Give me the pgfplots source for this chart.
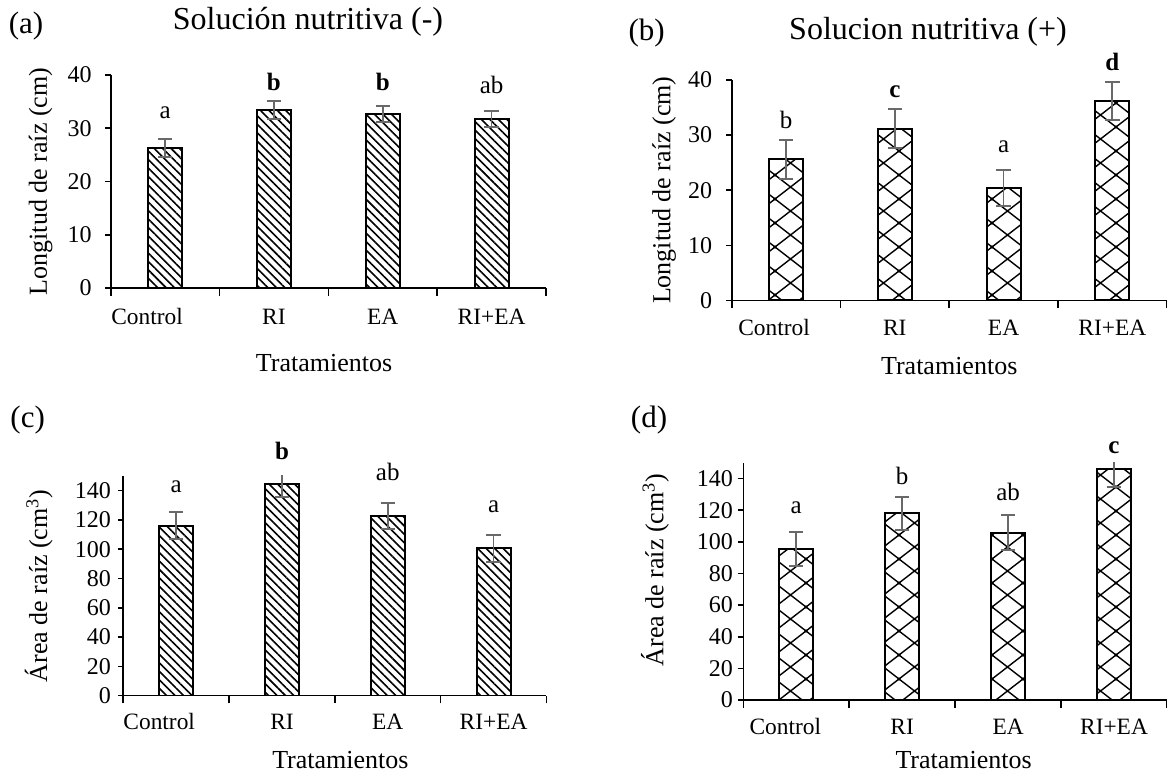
\documentclass[border=0pt]{standalone}
\usepackage{fontspec}
\setmainfont{Liberation Serif}
\usepackage{pgfplots}
\pgfplotsset{compat=1.18}
\usetikzlibrary{patterns,patterns.meta}
\definecolor{errgray}{RGB}{105,105,105}

\pgfdeclarepatternformonly{mydiamond}{\pgfqpoint{-1pt}{-1pt}}{\pgfqpoint{16.5pt}{13pt}}{\pgfqpoint{15.5pt}{12pt}}{%
  \pgfsetlinewidth{0.7pt}%
  \pgfpathmoveto{\pgfqpoint{-0.646pt}{-0.5pt}}\pgfpathlineto{\pgfqpoint{16.146pt}{12.5pt}}%
  \pgfpathmoveto{\pgfqpoint{-0.646pt}{12.5pt}}\pgfpathlineto{\pgfqpoint{16.146pt}{-0.5pt}}%
  \pgfusepath{stroke}}

\tikzset{lett/.style={font=\fontsize{12.5}{14}\selectfont, inner sep=0pt, anchor=center}}

\pgfplotsset{
  mybase/.style={
    scale only axis,
    ybar, bar width=17pt,
    axis x line*=bottom, axis y line*=left,
    axis line style={line width=0.8pt,-},
    xmin=-0.5, xmax=3.5, ymin=0,
    xtick={1,2,3}, xticklabels={RI,EA,RI+EA},
    extra x ticks={0}, extra x tick labels={Control},
    major x tick style={draw=none},
    minor xtick={-0.5,0.5,1.5,2.5,3.5},
    minor tick length=3.8pt, major tick length=2.7pt,
    tick align=outside,
    tick style={black, line width=0.8pt},
    /pgf/number format/assume math mode=true,
    yticklabel style={font=\fontsize{12}{14}\selectfont},
    xticklabel style={font=\fontsize{11.7}{14}\selectfont, anchor=base},
    xlabel style={font=\fontsize{13}{15}\selectfont, anchor=base},
    ylabel style={font=\fontsize{13}{15}\selectfont, anchor=center},
    clip mode=individual,
    xlabel={Tratamientos},
  },
  ctrl/.style={extra x tick style={major x tick style={draw=none}, xticklabel style={xshift=#1}}},
  errb/.style={
    draw=black, line width=1pt,
    error bars/.cd, y dir=both, y explicit,
    error bar style={errgray, line width=0.9pt},
    error mark=-,
    error mark options={rotate=90, errgray, line width=0.9pt, mark size=3.6pt},
    /pgfplots/.cd
  },
}

\begin{document}
\begin{tikzpicture}
\useasboundingbox (0,0) rectangle (583.5pt,387.5pt);

% (a)
\begin{axis}[mybase,
  at={(55.35pt,243.5pt)}, anchor=south west,
  width=217.65pt, height=106.5pt,
  ymax=40, ytick={0,10,20,30,40},
  ctrl=-9pt,
  yticklabel style={xshift=-3.3pt},
  xticklabel style={yshift=-15.5pt},
  xlabel style={at={(axis description cs:0.49,-0.3944)}},
  ylabel style={at={(axis description cs:-0.1608,0.5)}},
  ylabel={Longitud de raíz (cm)}]
\addplot[pattern={Lines[angle=-45,distance=3pt,line width=0.8pt]}, errb]
  coordinates {(0,26.3) +- (0,1.7) (1,33.4) +- (0,1.7) (2,32.7) +- (0,1.5) (3,31.7) +- (0,1.5)};
\node[lett] at (axis cs:0,32.9) {a};
\node[lett] at (axis cs:1,38.7) {\textbf{b}};
\node[lett] at (axis cs:2,38.7) {\textbf{b}};
\node[lett] at (axis cs:3,38.1) {ab};
\end{axis}

% (b)
\begin{axis}[mybase,
  at={(365.85pt,237.25pt)}, anchor=south west,
  width=217.5pt, height=110.25pt,
  ymax=40, ytick={0,10,20,30,40},
  ctrl=-6pt,
  yticklabel style={xshift=-3.6pt},
  xticklabel style={yshift=-15pt},
  xlabel style={at={(axis description cs:0.5,-0.3379)}},
  ylabel style={at={(axis description cs:-0.1552,0.5)}},
  ylabel={Longitud de raíz (cm)}]
\addplot[pattern=mydiamond, errb]
  coordinates {(0,25.6) +- (0,3.5) (1,31.2) +- (0,3.5) (2,20.4) +- (0,3.3) (3,36.2) +- (0,3.5)};
\node[lett] at (axis cs:0,32.7) {b};
\node[lett] at (axis cs:1,37.8) {\textbf{c}};
\node[lett] at (axis cs:2,27.8) {a};
\node[lett] at (axis cs:3,43.3) {\textbf{d}};
\end{axis}

% (c)
\begin{axis}[mybase,
  at={(61.65pt,39.65pt)}, anchor=south west,
  width=211.6pt, height=109.85pt,
  ymax=150, ytick={0,20,40,60,80,100,120,140},
  ctrl=-8.5pt,
  yticklabel style={xshift=0pt},
  xticklabel style={yshift=-14pt},
  xlabel style={at={(axis description cs:0.513,-0.3304)}},
  ylabel style={at={(axis description cs:-0.1997,0.5)}},
  ylabel={Área de raíz (cm\textsuperscript{3})}]
\addplot[pattern={Lines[angle=-45,distance=3pt,line width=0.8pt]}, errb]
  coordinates {(0,116.1) +- (0,9.1) (1,144.3) +- (0,8.8) (2,122.7) +- (0,9.1) (3,100.6) +- (0,9.1)};
\node[lett] at (axis cs:0,142.5) {a};
\node[lett] at (axis cs:1,167.1) {\textbf{b}};
\node[lett] at (axis cs:2,152.7) {ab};
\node[lett] at (axis cs:3,128.8) {a};
\end{axis}

% (d)
\begin{axis}[mybase,
  at={(371.65pt,37.5pt)}, anchor=south west,
  width=211.85pt, height=118.65pt,
  ymax=150, ytick={0,20,40,60,80,100,120,140},
  ctrl=-5.5pt,
  yticklabel style={xshift=1pt},
  xticklabel style={yshift=-14.5pt},
  xlabel style={at={(axis description cs:0.52,-0.2878)}},
  ylabel style={at={(axis description cs:-0.2086,0.548)}},
  ylabel={Área de raíz (cm\textsuperscript{3})}]
\addplot[pattern=mydiamond, errb]
  coordinates {(0,95.3) +- (0,10.7) (1,118.0) +- (0,10.5) (2,105.8) +- (0,11) (3,145.8) +- (0,11)};
\node[lett] at (axis cs:0,121.2) {a};
\node[lett] at (axis cs:1,141.6) {b};
\node[lett] at (axis cs:2,131.7) {ab};
\node[lett] at (axis cs:3,159.7) {\textbf{c}};
\end{axis}

% panel titles and letters
\node[anchor=base, font=\fontsize{15.5}{18}\selectfont] at (13pt,370.5pt) {(a)};
\node[anchor=base, font=\fontsize{16}{19}\selectfont] at (154pt,372.75pt) {Solución nutritiva (-)};
\node[anchor=base, font=\fontsize{15.5}{18}\selectfont] at (323.35pt,367pt) {(b)};
\node[anchor=base, font=\fontsize{16}{19}\selectfont] at (464pt,367.5pt) {Solucion nutritiva (+)};
\node[anchor=base, font=\fontsize{15.5}{18}\selectfont] at (13.85pt,173.5pt) {(c)};
\node[anchor=base, font=\fontsize{15.5}{18}\selectfont] at (324.5pt,173.5pt) {(d)};
\end{tikzpicture}
\end{document}
